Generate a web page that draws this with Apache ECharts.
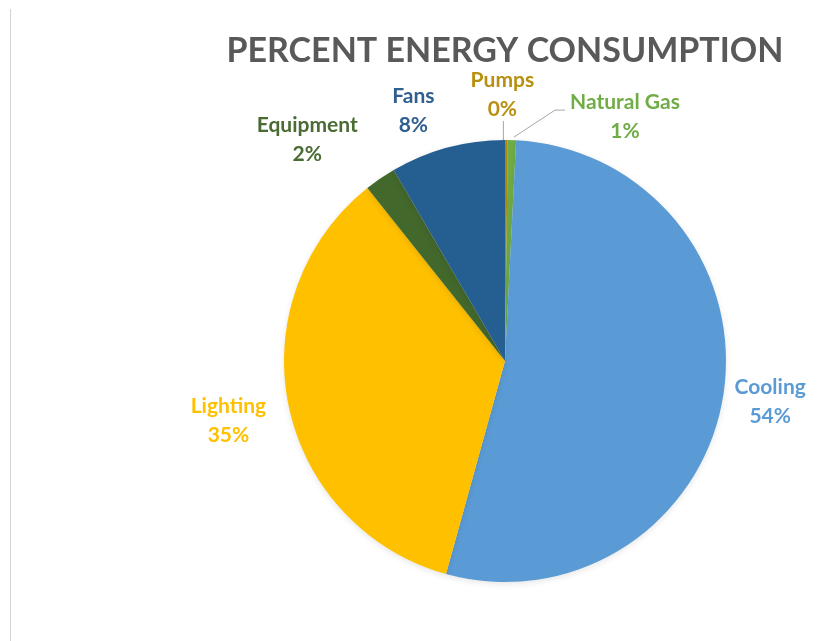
<!DOCTYPE html>
<html>
<head>
<meta charset="utf-8">
<script src="https://cdn.jsdelivr.net/npm/echarts@6/dist/echarts.min.js"></script>
<style>
  html, body { margin: 0; padding: 0; background: #ffffff; }
  #chart { position: absolute; left: 0; top: 0; width: 826px; height: 641px; }
  #edge { position: absolute; left: 10px; top: 9px; width: 1px; height: 632px; background: #d4d4d4; }
</style>
</head>
<body>
<div id="chart"></div>
<div id="edge"></div>
<script>
// ---- data (clockwise from 12 o'clock) ----
const categories = ['Pumps', 'Natural Gas', 'Cooling', 'Lighting', 'Equipment', 'Fans'];
const values = [0.2, 0.6, 53.5, 35.0, 2.3, 8.4];
const titleText = 'PERCENT ENERGY CONSUMPTION';

// ---- styles ----
const sliceColors = ['#BF9000', '#70AD47', '#5B9BD5', '#FFC000', '#43682B', '#255E91'];
const labelColors = ['#B8900F', '#70AD47', '#5B9BD5', '#FFC000', '#4A6B33', '#2F5F8F'];
// label offsets from the slice's outer mid-point (px)
const labelOffsets = [[-4, -45], [113, -23], [47, 5], [-60, 16], [-73, -39], [-34, -37]];
const CX = 505, CY = 361, R = 221;
const FONT = 'Lato, "Open Sans", sans-serif';

const chart = echarts.init(document.getElementById('chart'), null, { renderer: 'canvas' });

const total = values.reduce((a, b) => a + b, 0);
function midAngle(i) {
  let cum = 0;
  for (let k = 0; k < i; k++) cum += values[k];
  return (cum + values[i] / 2) / total * 2 * Math.PI;
}
function edgePoint(i) {
  const a = midAngle(i);
  return [CX + R * Math.sin(a), CY - R * Math.cos(a)];
}

const data = categories.map((name, i) => ({
  name: name,
  value: values[i],
  itemStyle: { color: sliceColors[i] },
  label: { color: labelColors[i] },
  labelLine: { show: name === 'Pumps' || name === 'Natural Gas' }
}));

chart.setOption({
  animation: false,
  backgroundColor: '#ffffff',
  title: {
    text: titleText,
    left: 505,
    top: 34,
    textAlign: 'center',
    padding: 0,
    textStyle: { fontFamily: FONT, fontWeight: 'bold', fontSize: 34, color: '#595959' }
  },
  series: [{
    type: 'pie',
    center: [CX, CY],
    radius: R,
    startAngle: 90,
    clockwise: true,
    avoidLabelOverlap: false,
    minShowLabelAngle: 0,
    itemStyle: { borderWidth: 0, shadowBlur: 6, shadowColor: 'rgba(0,0,0,0.10)', shadowOffsetY: 2 },
    label: {
      show: true,
      position: 'outside',
      fontFamily: FONT,
      fontWeight: 'bold',
      fontSize: 21,
      lineHeight: 29,
      align: 'center',
      formatter: p => p.name + '\n' + Math.round(p.percent) + '%'
    },
    labelLine: { show: false, length: 10, length2: 10, lineStyle: { color: '#A6A6A6', width: 1 } },
    emphasis: { disabled: true },
    labelLayout: function (params) {
      const i = params.dataIndex;
      const e = edgePoint(i);
      const o = labelOffsets[i];
      const x = e[0] + o[0], y = e[1] + o[1];
      const res = { x: x, y: y, align: 'center', verticalAlign: 'middle' };
      if (categories[i] === 'Pumps') {
        res.labelLinePoints = [[e[0] - 3, e[1] + 1], [e[0] - 3, y + 26], [e[0] - 3, y + 26]];
      } else if (categories[i] === 'Natural Gas') {
        const left = x - params.labelRect.width / 2;
        res.labelLinePoints = [[e[0] + 2, e[1] - 3], [left - 15, y - 7], [left - 5, y - 7]];
      }
      return res;
    },
    data: data
  }]
});
</script>
</body>
</html>
